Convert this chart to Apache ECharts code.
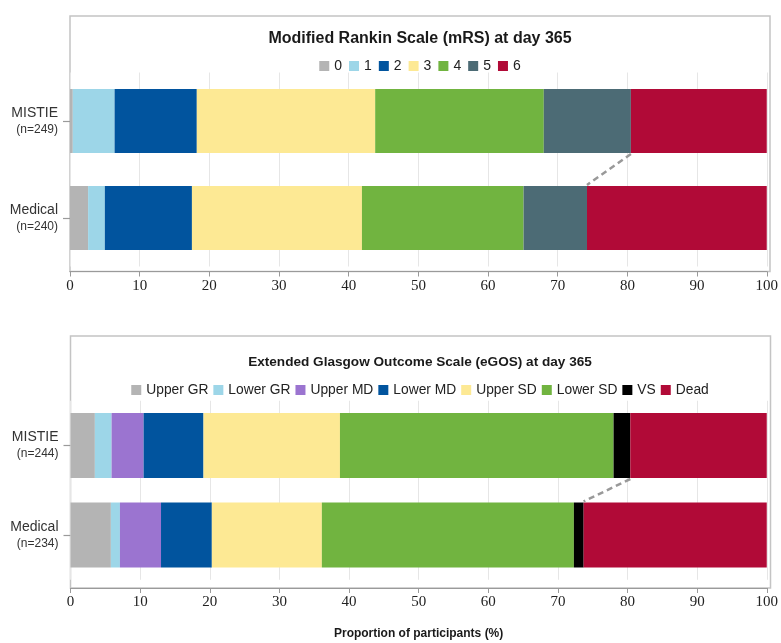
<!DOCTYPE html>
<html>
<head>
<meta charset="utf-8">
<title>mRS and eGOS at day 365</title>
<script src="https://cdn.jsdelivr.net/npm/echarts@6/dist/echarts.min.js"></script>
<style>
  html, body { margin: 0; padding: 0; background: #fff; }
  #chart { width: 781px; height: 643px; }
</style>
</head>
<body>
<div id="chart"></div>
<script>
// ---- data ----
const groups = ['MISTIE', 'Medical'];

const mrsTitle = 'Modified Rankin Scale (mRS) at day 365';
const mrsLevels = ['0', '1', '2', '3', '4', '5', '6'];
const mrsN = [249, 240];
const mrsMistie = [0.4, 6.0, 11.8, 25.6, 24.2, 12.5, 19.5];
const mrsMedical = [2.6, 2.4, 12.5, 24.4, 23.2, 9.1, 25.8];

const egosTitle = 'Extended Glasgow Outcome Scale (eGOS) at day 365';
const egosLevels = ['Upper GR', 'Lower GR', 'Upper MD', 'Lower MD', 'Upper SD', 'Lower SD', 'VS', 'Dead'];
const egosN = [244, 234];
const egosMistie = [3.5, 2.4, 4.6, 8.6, 19.6, 39.3, 2.4, 19.6];
const egosMedical = [5.8, 1.3, 5.9, 7.3, 15.8, 36.2, 1.4, 26.3];

const xTicks = [0, 10, 20, 30, 40, 50, 60, 70, 80, 90, 100];
const xAxisName = 'Proportion of participants (%)';

// ---- styling ----
const mrsColors = ['#b4b4b4', '#9dd6e8', '#01549e', '#fde994', '#71b440', '#4c6b75', '#b10a37'];
const egosColors = ['#b4b4b4', '#9dd6e8', '#9b74d0', '#01549e', '#fde994', '#71b440', '#000000', '#b10a37'];
const SANS_NAME = 'Liberation Sans';
const SANS = '"Liberation Sans", Arial, sans-serif';
const SERIF = '"Liberation Serif", "Times New Roman", serif';
const PLOT_CENTER = 420;

const panels = [
  { title: mrsTitle, titleSize: 16, levels: mrsLevels, n: mrsN, a: mrsMistie, b: mrsMedical, colors: mrsColors,
    frameTop: 16, axisY: 271.5, gridTop: 72.5, gridHeight: 194, barWidth: 64,
    titleTop: 31, legendTop: 59, legendGap: 7, legendFont: 14 },
  { title: egosTitle, titleSize: 13.6, levels: egosLevels, n: egosN, a: egosMistie, b: egosMedical, colors: egosColors,
    frameTop: 336, axisY: 588, gridTop: 400.75, gridHeight: 179, barWidth: 65,
    titleTop: 355, legendTop: 383, legendGap: 5, legendFont: 13.8 }
];

const LEGEND_ICON = 10;
const LEGEND_TEXT_GAP = 5; // fixed icon-to-text spacing in the legend

const sum = arr => arr.reduce((s, v) => s + v, 0);

// text measurement, used to centre titles and legends over the plot area
const measureCtx = document.createElement('canvas').getContext('2d');
function textWidth(str, size, weight) {
  measureCtx.font = `${weight || 'normal'} ${size}px "${SANS_NAME}"`;
  return measureCtx.measureText(str).width;
}

const option = {
  animation: false,
  backgroundColor: '#ffffff',
  textStyle: { fontFamily: SANS },
  title: [],
  legend: [],
  grid: [],
  xAxis: [],
  yAxis: [],
  series: [],
  graphic: []
};

panels.forEach((p, gi) => {
  const left = 70 + gi * 0.5;
  const width = 700;

  // panel frame
  option.graphic.push({
    type: 'rect', silent: true, z: 0,
    shape: { x: left, y: p.frameTop, width: width, height: p.axisY - p.frameTop },
    style: { fill: 'none', stroke: '#c4c4c4', lineWidth: 1.5 }
  });

  const tw = textWidth(p.title, p.titleSize, 'bold');
  option.title.push({
    text: p.title,
    left: PLOT_CENTER - tw / 2,
    top: p.titleTop,
    padding: 0,
    textStyle: { fontFamily: SANS, fontSize: p.titleSize, fontWeight: 'bold', color: '#1a1a1a' }
  });

  const legendWidth = sum(p.levels.map(l => LEGEND_ICON + LEGEND_TEXT_GAP + textWidth(l, p.legendFont)))
    + p.legendGap * (p.levels.length - 1);
  option.legend.push({
    data: p.levels,
    left: PLOT_CENTER - legendWidth / 2,
    top: p.legendTop,
    padding: 0,
    icon: 'rect',
    itemWidth: LEGEND_ICON,
    itemHeight: LEGEND_ICON,
    itemGap: p.legendGap,
    textStyle: { fontFamily: SANS, fontSize: p.legendFont, color: '#222' },
    selectedMode: false
  });

  option.grid.push({ left: left, width: width, top: p.gridTop, height: p.gridHeight });

  option.xAxis.push({
    type: 'value', gridIndex: gi, min: 0, max: 100, interval: 10,
    offset: p.axisY - (p.gridTop + p.gridHeight),
    name: gi === 1 ? xAxisName : '',
    nameLocation: 'middle',
    nameGap: 40,
    nameTextStyle: { fontFamily: SANS, fontSize: 12, fontWeight: 'bold', color: '#1a1a1a' },
    axisLine: { show: true, lineStyle: { color: '#9a9a9a', width: 1.2 } },
    axisTick: { show: true, length: 5, lineStyle: { color: '#9a9a9a' } },
    axisLabel: {
      fontFamily: SERIF, fontSize: 15, color: '#222', margin: 7,
      formatter: v => (xTicks.indexOf(v) >= 0 ? String(v) : '')
    },
    splitLine: { show: true, lineStyle: { color: '#e6e6e6', width: 1 } }
  });

  option.yAxis.push({
    type: 'category', gridIndex: gi, data: groups, inverse: true,
    axisLine: { show: false },
    axisTick: { show: true, alignWithLabel: true, length: 7, lineStyle: { color: '#9a9a9a', width: 1.2 } },
    axisLabel: {
      margin: 12,
      align: 'right',
      formatter: (v, i) => `{g|${v}}\n{n|(n=${p.n[i]})}`,
      rich: {
        g: { fontFamily: SANS, fontSize: 14, color: '#333', lineHeight: 17, align: 'right' },
        n: { fontFamily: SANS, fontSize: 12, color: '#333', lineHeight: 16, align: 'right' }
      }
    },
    splitLine: { show: false }
  });

  p.levels.forEach((lvl, k) => {
    option.series.push({
      name: lvl,
      type: 'bar',
      stack: 'panel' + gi,
      xAxisIndex: gi,
      yAxisIndex: gi,
      barWidth: p.barWidth,
      itemStyle: { color: p.colors[k] },
      data: [p.a[k], p.b[k]]
    });
  });

  // dashed connector between the start of the last category in each bar
  const lastA = sum(p.a.slice(0, -1));
  const lastB = sum(p.b.slice(0, -1));
  const bw = p.barWidth;
  option.series.push({
    type: 'custom',
    xAxisIndex: gi,
    yAxisIndex: gi,
    silent: true,
    z: 5,
    encode: { x: [0, 1], y: 2 },
    data: [[lastA, lastB, 0]],
    renderItem: (params, api) => {
      const top = api.coord([api.value(0), 0]);
      const bot = api.coord([api.value(1), 1]);
      return {
        type: 'line',
        shape: { x1: top[0], y1: top[1] + bw / 2 + 1, x2: bot[0], y2: bot[1] - bw / 2 - 1 },
        style: { stroke: '#999', lineWidth: 2.5, lineDash: [6, 4] }
      };
    }
  });
});

const chart = echarts.init(document.getElementById('chart'), null, { renderer: 'canvas' });
chart.setOption(option);
</script>
</body>
</html>
